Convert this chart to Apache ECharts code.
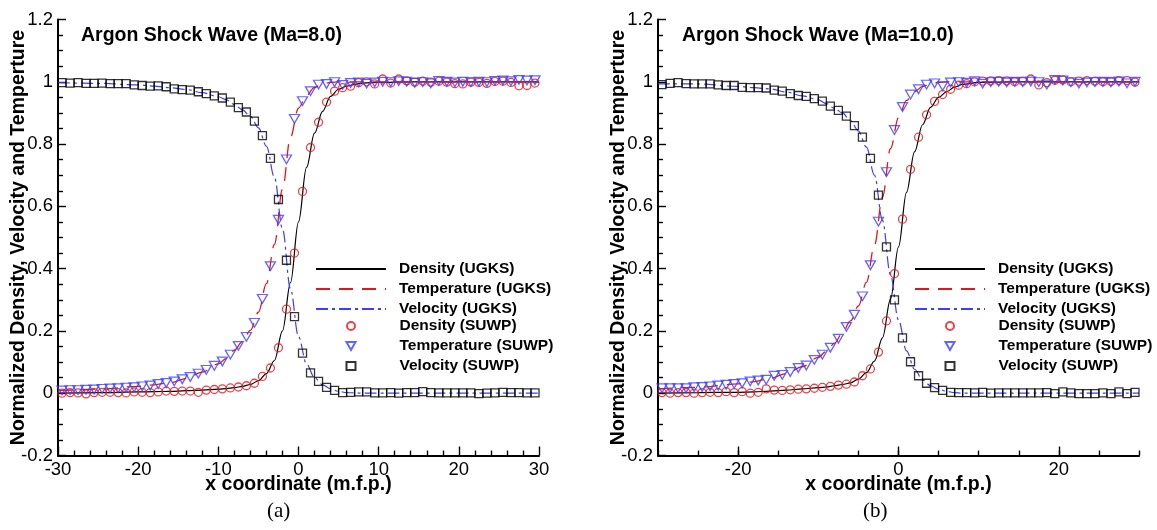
<!DOCTYPE html>
<html><head><meta charset="utf-8">
<script src="https://cdn.jsdelivr.net/npm/echarts@6/dist/echarts.min.js"></script>
<style>html,body{margin:0;padding:0;background:#fff}#c{width:1157px;height:530px}</style>
</head><body><div id="c"></div><script>
// ---- data ----
const suwpX = [-29.5,-28.5,-27.5,-26.5,-25.5,-24.5,-23.5,-22.5,-21.5,-20.5,-19.5,-18.5,-17.5,-16.5,-15.5,-14.5,-13.5,-12.5,-11.5,-10.5,-9.5,-8.5,-7.5,-6.5,-5.5,-4.5,-3.5,-2.5,-1.5,-0.5,0.5,1.5,2.5,3.5,4.5,5.5,6.5,7.5,8.5,9.5,10.5,11.5,12.5,13.5,14.5,15.5,16.5,17.5,18.5,19.5,20.5,21.5,22.5,23.5,24.5,25.5,26.5,27.5,28.5,29.5];

const ma8DensitySUWP = [0.000,0.002,0.001,-0.002,0.002,0.003,0.003,0.002,0.001,0.004,0.003,0.002,0.004,0.007,0.006,0.007,0.007,0.003,0.010,0.012,0.014,0.017,0.020,0.024,0.032,0.054,0.081,0.146,0.270,0.450,0.648,0.789,0.870,0.935,0.970,0.981,0.986,0.997,1.000,0.993,1.009,0.996,1.009,1.003,0.999,1.002,0.999,1.002,0.999,0.994,0.993,0.999,0.998,0.995,1.001,1.002,0.998,0.987,0.988,0.996];
const ma8TempSUWP = [0.009,0.010,0.010,0.011,0.012,0.014,0.015,0.016,0.018,0.019,0.022,0.025,0.030,0.033,0.038,0.045,0.052,0.063,0.075,0.088,0.102,0.124,0.152,0.181,0.226,0.303,0.408,0.557,0.751,0.881,0.938,0.970,0.991,0.993,0.999,0.990,0.996,0.998,0.994,0.998,1.000,0.999,1.002,1.000,0.997,0.999,0.995,1.003,1.000,0.998,1.000,0.999,1.000,0.999,1.003,1.004,1.002,1.006,1.004,1.005];
const ma8VelSUWP = [0.997,0.996,0.997,0.995,0.995,0.996,0.994,0.994,0.994,0.990,0.988,0.986,0.987,0.984,0.977,0.975,0.973,0.968,0.962,0.955,0.948,0.935,0.917,0.903,0.874,0.827,0.754,0.622,0.427,0.246,0.129,0.065,0.038,0.019,0.009,0.002,0.003,0.004,0.004,0.001,0.001,0.002,0.000,0.002,0.002,0.005,0.002,0.001,0.001,0.001,0.001,0.001,-0.001,0.000,0.001,0.003,0.002,0.002,0.001,0.001];

const ma10DensitySUWP = [0.002,0.000,0.002,0.002,0.000,0.002,0.003,0.002,0.005,0.002,0.005,0.000,0.003,0.014,0.010,0.009,0.011,0.013,0.014,0.016,0.019,0.022,0.026,0.029,0.036,0.056,0.078,0.132,0.232,0.384,0.559,0.719,0.822,0.894,0.937,0.959,0.976,0.989,0.994,1.000,1.002,1.003,1.004,1.003,1.000,1.002,1.009,0.990,0.997,1.005,1.006,1.000,1.002,1.004,1.002,1.000,1.001,1.004,1.004,0.999];
const ma10TempSUWP = [0.016,0.016,0.016,0.016,0.019,0.020,0.022,0.025,0.027,0.030,0.032,0.038,0.041,0.043,0.056,0.059,0.068,0.081,0.089,0.107,0.124,0.146,0.175,0.213,0.252,0.311,0.411,0.551,0.710,0.845,0.919,0.959,0.976,0.991,0.995,0.986,0.998,0.999,0.997,1.002,0.994,0.999,1.000,0.998,1.000,0.999,1.001,0.999,0.991,1.006,1.004,0.999,0.994,0.998,0.999,1.000,0.998,1.001,0.995,1.000];
const ma10VelSUWP = [0.991,0.995,0.997,0.994,0.993,0.993,0.993,0.990,0.988,0.988,0.982,0.981,0.981,0.980,0.973,0.970,0.962,0.956,0.953,0.946,0.938,0.922,0.908,0.890,0.859,0.822,0.754,0.636,0.470,0.300,0.178,0.101,0.056,0.032,0.018,0.009,0.003,0.002,0.002,0.001,0.003,0.000,0.001,0.001,0.001,0.001,0.001,0.001,0.002,-0.001,0.004,0.001,-0.001,-0.001,-0.001,0.001,-0.001,0.004,-0.001,0.003];

const ugksX = [-30,-25,-20,-18,-16,-14,-12,-10,-9,-8,-7,-6,-5,-4,-3,-2,-1,0,1,2,3,4,5,6,7,8,10,14,20,30];
const ma8DensityUGKS = [0.000,0.002,0.004,0.005,0.006,0.008,0.010,0.013,0.015,0.018,0.022,0.028,0.040,0.063,0.105,0.200,0.355,0.550,0.725,0.835,0.905,0.953,0.976,0.986,0.992,0.996,0.998,1.000,1.000,1.000];
const ma8TempUGKS = [0.008,0.013,0.022,0.027,0.034,0.047,0.068,0.094,0.112,0.138,0.166,0.202,0.260,0.352,0.478,0.655,0.822,0.915,0.956,0.982,0.993,0.998,1.000,1.000,1.000,1.000,1.000,1.000,1.000,1.000];
const ma8VelUGKS = [0.997,0.995,0.990,0.986,0.981,0.975,0.965,0.952,0.942,0.927,0.910,0.889,0.852,0.793,0.693,0.528,0.335,0.182,0.094,0.050,0.027,0.014,0.006,0.002,0.001,0.000,0.000,0.000,0.000,0.000];
const ma10DensityUGKS = [0.000,0.002,0.003,0.004,0.007,0.010,0.014,0.018,0.020,0.024,0.028,0.033,0.045,0.066,0.103,0.178,0.302,0.470,0.645,0.775,0.862,0.918,0.950,0.968,0.983,0.992,0.998,1.000,1.000,1.000];
const ma10TempUGKS = [0.014,0.019,0.030,0.037,0.048,0.063,0.085,0.115,0.135,0.160,0.193,0.232,0.280,0.356,0.475,0.630,0.785,0.885,0.940,0.968,0.985,0.994,0.998,1.000,1.000,1.000,1.000,1.000,1.000,1.000];
const ma10VelUGKS = [0.993,0.993,0.985,0.981,0.977,0.967,0.955,0.942,0.930,0.915,0.900,0.875,0.842,0.790,0.700,0.555,0.380,0.235,0.136,0.077,0.043,0.024,0.013,0.006,0.002,0.000,0.000,0.000,0.000,0.000];

const seriesNames = ['Density (UGKS)','Temperature (UGKS)','Velocity (UGKS)','Density (SUWP)','Temperature (SUWP)','Velocity (SUWP)'];
const panelTitles = ['Argon Shock Wave (Ma=8.0)','Argon Shock Wave (Ma=10.0)'];
const captions = ['(a)','(b)'];
const yName = 'Normalized Density, Velocity and Temperture';
const xName = 'x coordinate (m.f.p.)';
const rightXLabels = [-20, 0, 20];

// ---- styling ----
const FONT = "'Liberation Sans', Arial, Helvetica, sans-serif";
const SERIF = "'Liberation Serif', 'DejaVu Serif', serif";
const RED = '#e3161b', BLUE = '#3d3dff', BLACK = '#000';
const TRI_DOWN = 'path://M0,0 L10,0 L5,8.66 Z';
const zip = (xs, ys) => xs.map((x, i) => [x, ys[i]]);

function lineSeries(name, xs, ys, gi, style) {
  return { name, type: 'line', xAxisIndex: gi === 0 ? 0 : 1, yAxisIndex: gi, data: zip(xs, ys),
    symbol: 'none', smooth: 0.35, smoothMonotone: 'x', z: 2, lineStyle: style, itemStyle: { color: style.color } };
}
function scatterSeries(name, xs, ys, gi, symbol, color, size) {
  return { name, type: 'scatter', xAxisIndex: gi === 0 ? 0 : 1, yAxisIndex: gi, data: zip(xs, ys),
    symbol, symbolSize: size, z: 3,
    itemStyle: { color: 'rgba(0,0,0,0)', borderColor: color, borderWidth: 1.3 } };
}
function panelSeries(gi, d, t, v, ds, ts, vs) {
  return [
    lineSeries(seriesNames[0], ugksX, d, gi, { color: BLACK, width: 1.2, type: 'solid' }),
    lineSeries(seriesNames[1], ugksX, t, gi, { color: RED, width: 1.3, type: [14, 9] }),
    lineSeries(seriesNames[2], ugksX, v, gi, { color: BLUE, width: 1.2, type: [12, 4, 3, 4] }),
    scatterSeries(seriesNames[3], suwpX, ds, gi, 'circle', RED, 8),
    scatterSeries(seriesNames[4], suwpX, ts, gi, TRI_DOWN, BLUE, [10, 8.7]),
    scatterSeries(seriesNames[5], suwpX, vs, gi, 'rect', BLACK, 8)
  ];
}

const axisLine = { show: true, onZero: false, lineStyle: { color: '#000', width: 2 } };
const tickStyle = { color: '#000', width: 1.4 };
function yAxis(gi) {
  return { type: 'value', gridIndex: gi, min: -0.2, max: 1.2, interval: 0.2,
    axisLine, axisTick: { inside: true, length: 8, lineStyle: tickStyle },
    minorTick: { show: true, splitNumber: 4, length: 5, lineStyle: tickStyle },
    splitLine: { show: false }, minorSplitLine: { show: false },
    axisLabel: { color: '#000', fontSize: 18.5, fontFamily: FONT, margin: 5 },
    name: yName, nameLocation: 'middle', nameGap: 29, nameMoveOverlap: false,
    nameTextStyle: { color: '#000', fontSize: 19.5, fontWeight: 'bold', fontFamily: FONT } };
}
const xNameCfg = { name: xName, nameLocation: 'middle', nameGap: 19.5, nameMoveOverlap: false,
  nameTextStyle: { color: '#000', fontSize: 19.5, fontWeight: 'bold', fontFamily: FONT } };

const legendText = { color: '#000', fontSize: 15.5, fontWeight: 'bold', fontFamily: FONT, lineHeight: 15 };
function lineLegend(left) {
  return { left, top: 261, orient: 'vertical', itemWidth: 70, itemHeight: 9, itemGap: 4, padding: 0, selectedMode: false,
    data: seriesNames.slice(0, 3).map(n => ({ name: n, itemStyle: { color: 'rgba(0,0,0,0)', borderWidth: 0 } })),
    textStyle: Object.assign({ padding: [0, 0, 0, 8] }, legendText) };
}
function markerLegend(left) {
  return { left, top: 318, orient: 'vertical', itemWidth: 9, itemHeight: 8, itemGap: 4, padding: 0, selectedMode: false,
    data: seriesNames.slice(3),
    textStyle: Object.assign({ padding: [0, 0, 0, 39] }, legendText) };
}

const option = {
  animation: false,
  backgroundColor: '#fff',
  grid: [
    { left: 58, right: 618, top: 19.5, bottom: 74.5 },
    { left: 658, right: 18, top: 19.5, bottom: 74.5 }
  ],
  xAxis: [
    Object.assign({ type: 'value', gridIndex: 0, min: -30, max: 30, interval: 10, position: 'bottom',
      axisLine, axisTick: { inside: true, length: 9, lineStyle: tickStyle },
      minorTick: { show: true, splitNumber: 5, length: 5, lineStyle: tickStyle },
      splitLine: { show: false }, minorSplitLine: { show: false },
      axisLabel: { color: '#000', fontSize: 18.5, fontFamily: FONT, margin: 5 } }, xNameCfg),
    Object.assign({ type: 'value', gridIndex: 1, min: -30, max: 30, interval: 5, position: 'bottom',
      axisLine, axisTick: { inside: true, length: 5, lineStyle: tickStyle },
      splitLine: { show: false }, axisLabel: { show: false } }, xNameCfg),
    { type: 'value', gridIndex: 1, min: -30, max: 30, interval: 10, position: 'bottom',
      axisLine: { show: false, onZero: false }, axisTick: { inside: true, length: 9, lineStyle: tickStyle, customValues: rightXLabels },
      splitLine: { show: false },
      axisLabel: { color: '#000', fontSize: 18.5, fontFamily: FONT, margin: 5, customValues: rightXLabels } }
  ],
  yAxis: [yAxis(0), yAxis(1)],
  title: [
    { text: panelTitles[0], left: 81, top: 26, padding: 0, textStyle: { color: '#000', fontSize: 19.5, fontWeight: 'bold', fontFamily: FONT } },
    { text: panelTitles[1], left: 682, top: 26, padding: 0, textStyle: { color: '#000', fontSize: 19.5, fontWeight: 'bold', fontFamily: FONT } },
    { text: captions[0], left: 267, top: 501, padding: 0, textStyle: { color: '#000', fontSize: 21, fontWeight: 'normal', fontFamily: SERIF } },
    { text: captions[1], left: 863, top: 501, padding: 0, textStyle: { color: '#000', fontSize: 21, fontWeight: 'normal', fontFamily: SERIF } }
  ],
  legend: [lineLegend(315), markerLegend(345.5), lineLegend(914), markerLegend(944.5)],
  series: [].concat(
    panelSeries(0, ma8DensityUGKS, ma8TempUGKS, ma8VelUGKS, ma8DensitySUWP, ma8TempSUWP, ma8VelSUWP),
    panelSeries(1, ma10DensityUGKS, ma10TempUGKS, ma10VelUGKS, ma10DensitySUWP, ma10TempSUWP, ma10VelSUWP)
  )
};
const chart = echarts.init(document.getElementById('c'), null, { renderer: 'canvas' });
chart.setOption(option);
</script></body></html>
